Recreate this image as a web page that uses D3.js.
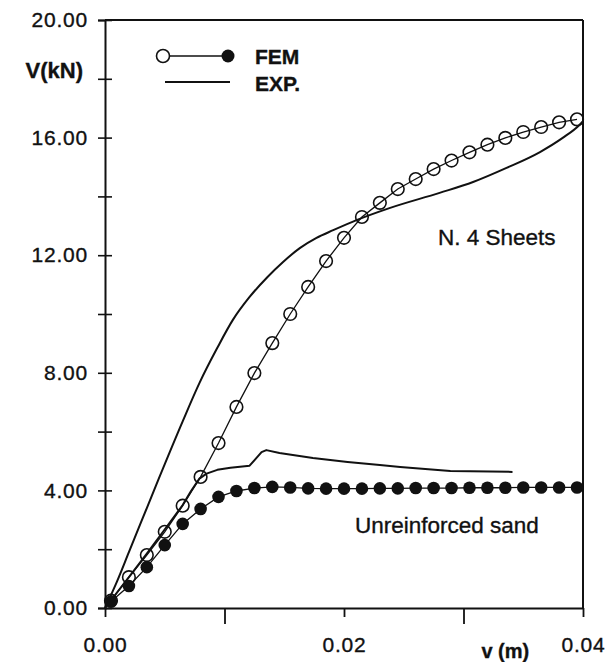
<!DOCTYPE html>
<html>
<head>
<meta charset="utf-8">
<script src="https://cdn.jsdelivr.net/npm/d3@7"></script>
<style>
    body { margin: 0; background: #fff; }
    #chart text { font-family: "Liberation Sans", Arial, sans-serif; fill: #111; stroke: #111; stroke-width: 0.35px; }
</style>
</head>
<body>
<div id="chart"></div>
<script>
// Displacement v (m) of the FEM points (shared by both FEM series)
var femV = [0.0005, 0.0020, 0.0035, 0.0050, 0.0065, 0.0080, 0.0095, 0.0110, 0.0125,
    0.0140, 0.0155, 0.0170, 0.0185, 0.0200, 0.0215, 0.0230, 0.0245, 0.0260, 0.0275,
    0.0290, 0.0305, 0.0320, 0.0335, 0.0350, 0.0365, 0.0380, 0.0395];

// FEM, N. 4 sheets (open circles), V (kN)
var femSheets = [0.25, 1.05, 1.80, 2.59, 3.48, 4.46, 5.61, 6.84, 7.99,
    9.01, 10.00, 10.92, 11.80, 12.59, 13.30, 13.78, 14.25, 14.59, 14.93,
    15.22, 15.50, 15.76, 15.99, 16.19, 16.36, 16.52, 16.62];

// FEM, unreinforced sand (filled circles), V (kN)
var femSand = [0.22, 0.75, 1.39, 2.14, 2.86, 3.37, 3.78, 3.98, 4.08,
    4.12, 4.10, 4.07, 4.06, 4.06, 4.06, 4.07, 4.07, 4.08, 4.08,
    4.08, 4.09, 4.09, 4.09, 4.10, 4.10, 4.10, 4.10];

// Experimental curve, N. 4 sheets
var expSheetsV = [0, 0.0010, 0.0020, 0.0030, 0.0045, 0.0065, 0.0079, 0.0094, 0.0107,
    0.0121, 0.0136, 0.0149, 0.0163, 0.0177, 0.0191, 0.0211, 0.0238, 0.0280, 0.0308,
    0.0336, 0.0364, 0.0383, 0.0397, 0.0400];
var expSheetsF = [0, 0.90, 1.90, 2.90, 4.40, 6.35, 7.65, 8.85, 9.80,
    10.58, 11.26, 11.77, 12.24, 12.59, 12.85, 13.20, 13.60, 14.12, 14.49,
    14.97, 15.51, 15.99, 16.43, 16.56];

// Experimental curve, unreinforced sand
var expSandV = [0, 0.0021, 0.0035, 0.0049, 0.0065, 0.0072, 0.0079, 0.0085, 0.0094,
    0.0105, 0.0121, 0.0131, 0.0135, 0.0146, 0.0174, 0.0203, 0.0230, 0.0247, 0.0289, 0.0341];
var expSandF = [0, 1.10, 1.85, 2.62, 3.50, 3.98, 4.40, 4.57, 4.70,
    4.77, 4.84, 5.30, 5.37, 5.27, 5.10, 4.97, 4.86, 4.80, 4.66, 4.63];

var xTicks = [0, 0.01, 0.02, 0.03, 0.04];
var xTickLabels = ['0.00', '', '0.02', '', '0.04'];
var yTicks = [0, 2, 4, 6, 8, 10, 12, 14, 16, 18, 20];
var yTickLabels = ['0.00', '', '4.00', '', '8.00', '', '12.00', '', '16.00', '', '20.00'];

function drawChart() {
    var width = 614, height = 662;
    var margin = { top: 20, right: 31, bottom: 54, left: 105 };
    var innerWidth = width - margin.left - margin.right;
    var innerHeight = height - margin.top - margin.bottom;

    var svg = d3.select('#chart').append('svg')
        .attr('width', width)
        .attr('height', height);

    var g = svg.append('g').attr('transform', 'translate(' + margin.left + ',' + margin.top + ')');

    var x = d3.scaleLinear().domain([0, 0.04]).range([0, innerWidth]);
    var y = d3.scaleLinear().domain([0, 20]).range([innerHeight, 0]);

    // Frame (top and right)
    g.append('line')
        .attr('x1', 0).attr('y1', y(20)).attr('x2', x(0.04)).attr('y2', y(20))
        .attr('stroke', '#111').attr('stroke-width', 2);
    g.append('line')
        .attr('x1', x(0.04)).attr('y1', y(20)).attr('x2', x(0.04)).attr('y2', y(0))
        .attr('stroke', '#111').attr('stroke-width', 2);

    // Y axis: ticks cross the axis line
    var yAxis = g.append('g')
        .call(d3.axisLeft(y).tickValues(yTicks).tickSize(7).tickPadding(10)
            .tickFormat(function(d, i){ return yTickLabels[i]; }));
    g.append('g')
        .call(d3.axisRight(y).tickValues(yTicks).tickSize(7).tickFormat(''))
        .select('.domain').remove();
    g.selectAll('.tick line').attr('stroke', '#111').attr('stroke-width', 1.6);
    yAxis.select('.domain').attr('stroke', '#111').attr('stroke-width', 2);
    yAxis.selectAll('text').style('font-size', '21px').attr('letter-spacing', '0.8px');

    // X axis
    var xAxis = g.append('g')
        .attr('transform', 'translate(0,' + innerHeight + ')')
        .call(d3.axisBottom(x).tickValues(xTicks).tickSizeOuter(0)
            .tickFormat(function(d, i){ return xTickLabels[i]; }));
    xAxis.select('.domain').attr('stroke', '#111').attr('stroke-width', 2);
    xAxis.selectAll('.tick line')
        .attr('stroke', '#111').attr('stroke-width', 1.8)
        .attr('y2', function(d, i){ return i % 2 ? 16 : 9; });
    xAxis.selectAll('text')
        .attr('y', 29)
        .style('font-size', '21px').attr('letter-spacing', '0.8px');

    // Axis titles
    g.append('text')
        .attr('x', -22).attr('y', y(18.3))
        .attr('dy', '0.36em')
        .attr('text-anchor', 'end')
        .attr('font-weight', 'bold')
        .style('font-size', '22px')
        .text('V(kN)');
    g.append('text')
        .attr('x', x(0.0335)).attr('y', innerHeight + 43)
        .attr('dy', '0.36em')
        .attr('text-anchor', 'middle')
        .attr('font-weight', 'bold')
        .style('font-size', '20px')
        .text('v (m)');

    // Curves
    var expSheets = expSheetsV.map(function(v, i){ return { v: v, f: expSheetsF[i] }; });
    var expSand = expSandV.map(function(v, i){ return { v: v, f: expSandF[i] }; });
    var femA = femV.map(function(v, i){ return { v: v, f: femSheets[i] }; });
    var femB = femV.map(function(v, i){ return { v: v, f: femSand[i] }; });

    var smooth = d3.line()
        .x(function(d){ return x(d.v); })
        .y(function(d){ return y(d.f); })
        .curve(d3.curveMonotoneX);
    var straight = d3.line()
        .x(function(d){ return x(d.v); })
        .y(function(d){ return y(d.f); });

    g.append('path').datum(expSheets)
        .attr('fill', 'none').attr('stroke', '#111').attr('stroke-width', 2)
        .attr('d', smooth);
    g.append('path').datum(expSand)
        .attr('fill', 'none').attr('stroke', '#111').attr('stroke-width', 2)
        .attr('stroke-linejoin', 'round')
        .attr('d', straight);

    g.append('path').datum(femA)
        .attr('fill', 'none').attr('stroke', '#111').attr('stroke-width', 1.3)
        .attr('d', straight);
    g.append('path').datum(femB)
        .attr('fill', 'none').attr('stroke', '#111').attr('stroke-width', 1.3)
        .attr('d', straight);

    g.selectAll('circle.open')
        .data(femA)
        .enter()
        .append('circle')
        .attr('class', 'open')
        .attr('cx', function(d){ return x(d.v); })
        .attr('cy', function(d){ return y(d.f); })
        .attr('r', 6.3)
        .attr('fill', 'none')
        .attr('stroke', '#111')
        .attr('stroke-width', 1.6);

    g.selectAll('circle.full')
        .data(femB)
        .enter()
        .append('circle')
        .attr('class', 'full')
        .attr('cx', function(d){ return x(d.v); })
        .attr('cy', function(d){ return y(d.f); })
        .attr('r', 6.3)
        .attr('fill', '#111');

    // Annotations
    g.append('text')
        .attr('x', 333).attr('y', 217)
        .attr('dy', '0.36em')
        .style('font-size', '22.5px')
        .text('N. 4 Sheets');
    g.append('text')
        .attr('x', 250).attr('y', 505)
        .attr('dy', '0.36em')
        .style('font-size', '22.5px')
        .text('Unreinforced sand');

    // Legend
    var legend = svg.append('g');
    legend.append('line')
        .attr('x1', 163).attr('y1', 56).attr('x2', 228).attr('y2', 56)
        .attr('stroke', '#111').attr('stroke-width', 1.5);
    legend.append('circle')
        .attr('cx', 163).attr('cy', 56).attr('r', 6.5)
        .attr('fill', '#fff').attr('stroke', '#111').attr('stroke-width', 1.6);
    legend.append('circle')
        .attr('cx', 228).attr('cy', 56).attr('r', 6.5)
        .attr('fill', '#111');
    legend.append('text')
        .attr('x', 255).attr('y', 56).attr('dy', '0.36em')
        .attr('font-weight', 'bold').style('font-size', '21px')
        .text('FEM');
    legend.append('line')
        .attr('x1', 165).attr('y1', 82).attr('x2', 230).attr('y2', 82)
        .attr('stroke', '#111').attr('stroke-width', 1.8);
    legend.append('text')
        .attr('x', 255).attr('y', 83).attr('dy', '0.36em')
        .attr('font-weight', 'bold').style('font-size', '21px')
        .text('EXP.');
}

drawChart();
</script>
</body>
</html>
